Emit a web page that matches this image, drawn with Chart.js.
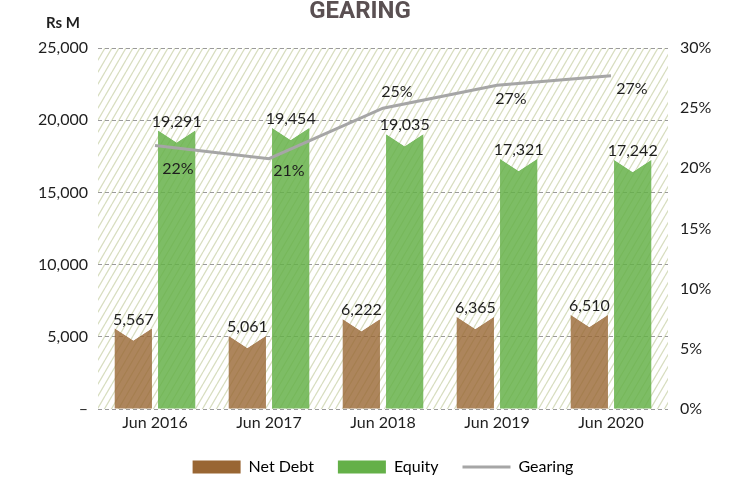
<!DOCTYPE html>
<html>
<head>
<meta charset="utf-8">
<script src="https://cdn.jsdelivr.net/npm/chart.js@4.4.1/dist/chart.umd.min.js"></script>
<style>
  html, body { margin: 0; padding: 0; background: #fff; }
</style>
</head>
<body>
<canvas id="gearingChart" width="748" height="483"></canvas>
<script>
const categories = ["Jun 2016", "Jun 2017", "Jun 2018", "Jun 2019", "Jun 2020"];
const netDebt = [5567, 5061, 6222, 6365, 6510];
const equity = [19291, 19454, 19035, 17321, 17242];
const gearing = [21.9, 20.8, 25.0, 26.9, 27.7];
const gearingLabels = ["22%", "21%", "25%", "27%", "27%"];

const leftMax = 25000;
const leftStep = 5000;
const rightMax = 30;
const rightStep = 5;

// label nudges for the gearing %, in px from the line point
const gearingLabelShift = [[23, 23], [20, 12], [14, -16], [14, 14], [21, 13]];

const netDebtColor = "#996633";
const equityColor = "#64b048";
const gearingColor = "#a6a6a6";
const textColor = "#1e1e1e";
const notchDepth = 12;
const baseFont = "Lato, 'Open Sans', sans-serif";

let hatch = null;
function getHatch(ctx) {
  if (hatch) return hatch;
  const w = 7, h = 12;
  const tile = document.createElement("canvas");
  tile.width = w;
  tile.height = h;
  const t = tile.getContext("2d");
  t.fillStyle = "#fff";
  t.fillRect(0, 0, w, h);
  t.strokeStyle = "#d8dec0";
  t.lineWidth = 1.3;
  t.beginPath();
  for (const off of [-w, 0, w]) {
    t.moveTo(off, h);
    t.lineTo(off + w, 0);
  }
  t.stroke();
  hatch = ctx.createPattern(tile, "repeat");
  return hatch;
}

const hatchPlugin = {
  id: "hatchBackground",
  beforeDraw(chart) {
    const { ctx, chartArea: a } = chart;
    ctx.save();
    ctx.fillStyle = getHatch(ctx);
    ctx.fillRect(a.left, a.top, a.right - a.left, a.bottom - a.top);
    ctx.restore();
  },
  afterDatasetDraw(chart, args) {
    // cut the V notch out of the top of every bar
    if (args.meta.type !== "bar") return;
    const ctx = chart.ctx;
    ctx.save();
    args.meta.data.forEach((bar) => {
      const half = bar.width / 2 + 0.5;
      ctx.beginPath();
      ctx.moveTo(bar.x - half, bar.y - 0.5);
      ctx.lineTo(bar.x + half, bar.y - 0.5);
      ctx.lineTo(bar.x, bar.y + notchDepth);
      ctx.closePath();
      ctx.fillStyle = "#fff";
      ctx.fill();
      ctx.fillStyle = getHatch(ctx);
      ctx.fill();
    });
    ctx.restore();
  },
};

const labelPlugin = {
  id: "valueLabels",
  beforeLayout(chart) {
    const legend = chart.legend;
    if (legend && !legend._fixedFit) {
      const origFit = legend.fit;
      legend.fit = function () {
        origFit.call(this);
        this.height = 48;
      };
      legend._fixedFit = true;
    }
  },
  afterDatasetsDraw(chart) {
    const ctx = chart.ctx;
    ctx.save();
    ctx.fillStyle = textColor;
    ctx.font = "16px " + baseFont;
    ctx.textAlign = "center";
    ctx.textBaseline = "bottom";
    [0, 1].forEach((di) => {
      const values = chart.data.datasets[di].data;
      chart.getDatasetMeta(di).data.forEach((bar, i) => {
        ctx.fillText(values[i].toLocaleString("en-US"), bar.x, bar.y - 1);
      });
    });
    ctx.textBaseline = "middle";
    chart.getDatasetMeta(2).data.forEach((pt, i) => {
      const [dx, dy] = gearingLabelShift[i];
      ctx.fillText(gearingLabels[i], pt.x + dx, pt.y + dy);
    });
    ctx.restore();
  },
  afterDraw(chart) {
    const ctx = chart.ctx;
    ctx.save();
    ctx.fillStyle = "#5a5052";
    ctx.font = "bold 24px Roboto, 'DejaVu Sans', sans-serif";
    ctx.textAlign = "center";
    ctx.textBaseline = "alphabetic";
    ctx.fillText("GEARING", 360, 18);
    ctx.fillStyle = textColor;
    ctx.font = "bold 15px " + baseFont;
    ctx.fillText("Rs M", 63, 28);
    ctx.restore();
  },
};

const ctx = document.getElementById("gearingChart").getContext("2d");

const gearingChart = new Chart(ctx, {
  type: "bar",
  data: {
    labels: categories,
    datasets: [
      {
        label: "Net Debt",
        data: netDebt,
        backgroundColor: "rgba(153, 102, 51, 0.8)",
        yAxisID: "y",
        order: 1,
        categoryPercentage: 0.76,
        barPercentage: 0.86,
      },
      {
        label: "Equity",
        data: equity,
        backgroundColor: "rgba(100, 176, 72, 0.84)",
        yAxisID: "y",
        order: 1,
        categoryPercentage: 0.76,
        barPercentage: 0.86,
      },
      {
        type: "line",
        label: "Gearing",
        data: gearing,
        borderColor: gearingColor,
        borderWidth: 3,
        pointRadius: 0,
        tension: 0,
        yAxisID: "y1",
        order: 0,
      },
    ],
  },
  options: {
    responsive: false,
    animation: false,
    layout: { padding: { top: 48, left: 0, right: 0, bottom: 0 } },
    plugins: {
      tooltip: { enabled: false },
      legend: {
        position: "bottom",
        fullSize: false,
        labels: {
          usePointStyle: true,
          pointStyleWidth: 48,
          boxHeight: 13,
          padding: 24,
          color: textColor,
          font: { family: baseFont, size: 16 },
          generateLabels: () => [
            { text: "Net Debt", fillStyle: netDebtColor, strokeStyle: netDebtColor, lineWidth: 0, pointStyle: "rect", datasetIndex: 0 },
            { text: "Equity", fillStyle: equityColor, strokeStyle: equityColor, lineWidth: 0, pointStyle: "rect", datasetIndex: 1 },
            { text: "Gearing", fillStyle: gearingColor, strokeStyle: gearingColor, lineWidth: 3, pointStyle: "line", datasetIndex: 2 },
          ],
        },
      },
    },
    scales: {
      x: {
        grid: { display: false, drawTicks: false },
        border: { display: false },
        ticks: { color: textColor, padding: 4, font: { family: baseFont, size: 16 } },
        afterFit: (scale) => { scale.height = 26; },
      },
      y: {
        position: "left",
        min: 0,
        max: leftMax,
        ticks: {
          stepSize: leftStep,
          padding: 10,
          color: textColor,
          font: { family: baseFont, size: 16 },
          callback: (v) => (v === 0 ? "\u2013" : v.toLocaleString("en-US")),
        },
        grid: { color: "#9a9a9a", lineWidth: 1, drawTicks: false },
        border: { display: false, dash: [4, 3] },
        afterFit: (scale) => { scale.width = 98; },
      },
      y1: {
        position: "right",
        min: 0,
        max: rightMax,
        ticks: {
          stepSize: rightStep,
          padding: 12,
          color: textColor,
          font: { family: baseFont, size: 16 },
          callback: (v) => v + "%",
        },
        grid: { display: false, drawTicks: false },
        border: { display: false },
        afterFit: (scale) => { scale.width = 80; },
      },
    },
  },
  plugins: [hatchPlugin, labelPlugin],
});
</script>
</body>
</html>
